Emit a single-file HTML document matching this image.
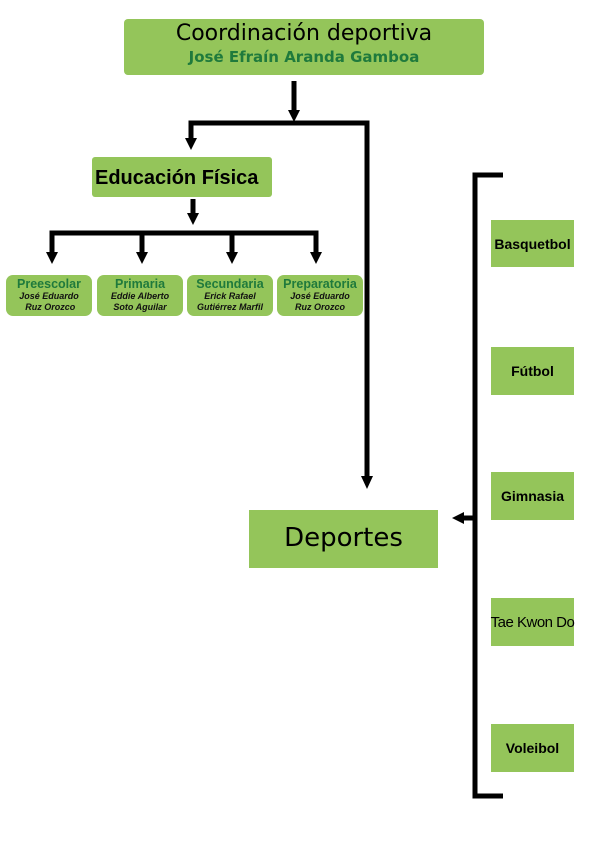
<!DOCTYPE html>
<html><head><meta charset="utf-8"><style>
body{margin:0;width:602px;height:843px;background:#fff;position:relative;overflow:hidden;font-family:"DejaVu Sans","Liberation Sans",sans-serif}
.b{position:absolute;background:#94c55a;text-align:center;box-sizing:border-box}
.s{font-family:"Liberation Sans",sans-serif;font-size:14px;font-weight:bold;color:#000;display:flex;align-items:center;justify-content:center;white-space:nowrap}
.sm{border-radius:7px;line-height:11px;font-family:"Liberation Sans",sans-serif}
.sm .t{color:#1f7a3c;font-weight:bold;font-size:12.5px;line-height:14px;padding-top:2px}
.sm .n{font-size:9px;font-style:italic;font-weight:bold;color:#111}
</style></head><body>
<div class="b" style="left:124px;top:19px;width:360px;height:56px;border-radius:4px">
<div style="font-size:22px;line-height:28px;margin-top:1px">Coordinación deportiva</div>
<div style="font-size:15px;font-weight:bold;color:#1f7a3c;line-height:18px">José Efraín Aranda Gamboa</div></div>
<div class="b" style="left:92px;top:157px;width:180px;height:40px;border-radius:3px;font-family:'Liberation Sans',sans-serif;font-weight:bold;font-size:20px;line-height:42px;text-align:left;padding-left:3px">Educación Física</div>

<div class="b sm" style="left:6px;top:275px;width:86px;height:41px"><div class="t">Preescolar</div><div class="n">José Eduardo<br>&nbsp;Ruz Orozco</div></div>
<div class="b sm" style="left:97px;top:275px;width:86px;height:41px"><div class="t">Primaria</div><div class="n">Eddie Alberto<br>Soto Aguilar</div></div>
<div class="b sm" style="left:187px;top:275px;width:86px;height:41px"><div class="t">Secundaria</div><div class="n">Erick Rafael<br>Gutiérrez Marfil</div></div>
<div class="b sm" style="left:277px;top:275px;width:86px;height:41px"><div class="t">Preparatoria</div><div class="n">José Eduardo<br>Ruz Orozco</div></div>

<div class="b" style="left:249px;top:510px;width:189px;height:58px;font-size:26px;line-height:56px">Deportes</div>

<div class="b s" style="left:491px;top:220px;width:83px;height:47px">Basquetbol</div>
<div class="b s" style="left:491px;top:347px;width:83px;height:48px">Fútbol</div>
<div class="b s" style="left:491px;top:472px;width:83px;height:48px">Gimnasia</div>
<div class="b s" style="left:491px;top:598px;width:83px;height:48px;font-family:'Liberation Sans Narrow','Liberation Sans',sans-serif;font-weight:normal;font-size:15px;letter-spacing:-0.5px">Tae Kwon Do</div>
<div class="b s" style="left:491px;top:724px;width:83px;height:48px">Voleibol</div>

<svg width="602" height="843" style="position:absolute;left:0;top:0">
<g stroke="#000" stroke-width="5" fill="none">
<line x1="294" y1="81" x2="294" y2="112"/>
<polyline points="191,140 191,123 367,123 367,478"/>
<line x1="193" y1="199" x2="193" y2="215"/>
<polyline points="52,254 52,233 316,233 316,254"/>
<line x1="142" y1="233" x2="142" y2="254"/>
<line x1="232" y1="233" x2="232" y2="254"/>
<polyline points="503,175 475,175 475,796 503,796"/>
<line x1="475" y1="518" x2="462" y2="518"/>
</g>
<g fill="#000">
<polygon points="288,110 300,110 294,122"/>
<polygon points="185,138 197,138 191,150"/>
<polygon points="187,213 199,213 193,225"/>
<polygon points="46,252 58,252 52,264"/>
<polygon points="136,252 148,252 142,264"/>
<polygon points="226,252 238,252 232,264"/>
<polygon points="310,252 322,252 316,264"/>
<polygon points="361,476 373,476 367,489"/>
<polygon points="464,512 464,524 452,518"/>
</g></svg>
</body></html>
